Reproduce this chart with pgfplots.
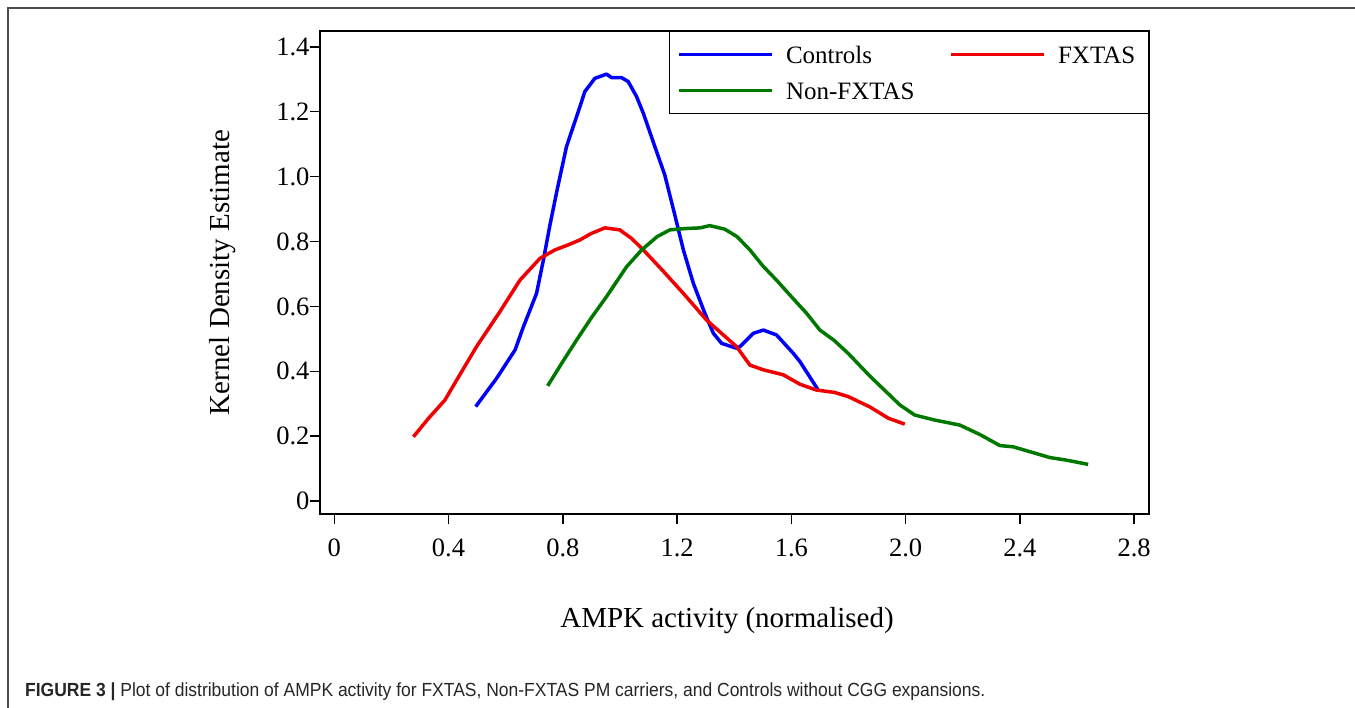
\documentclass[border=0pt]{standalone}
\usepackage{fontspec}
\setmainfont{Liberation Serif}
\newfontfamily\capfont{Liberation Sans}
\usepackage{pgfplots}
\pgfplotsset{compat=1.18}
\definecolor{ctrlblue}{RGB}{0,0,250}
\definecolor{fxred}{RGB}{240,0,0}
\definecolor{nongreen}{RGB}{0,120,0}

\begin{document}
\begin{tikzpicture}[x=1pt,y=1pt]
\path[use as bounding box] (0pt,0pt) rectangle (1355pt,708pt);
% outer figure frame (top and left edges visible)
\draw[line width=2pt, black!70] (8pt,-10pt) -- (8pt,700pt) -- (1365pt,700pt);

\begin{axis}[
  at={(320pt,194pt)}, anchor=south west,
  scale only axis, width=829pt, height=483pt,
  xmin=-0.05, xmax=2.852, ymin=-0.04, ymax=1.449,
  xtick={0,0.4,0.8,1.2,1.6,2.0,2.4,2.8},
  xticklabels={0,0.4,0.8,1.2,1.6,2.0,2.4,2.8},
  ytick={0,0.2,0.4,0.6,0.8,1.0,1.2,1.4},
  yticklabels={0,0.2,0.4,0.6,0.8,1.0,1.2,1.4},
  tick align=outside, tick pos=left, major tick length=10pt,
  axis line style={line width=1.8pt},
  tick style={line width=1.4pt, black},
  ticklabel style={font=\fontsize{26.5}{30}\selectfont},
  xticklabel style={yshift=-11pt},
  yticklabel style={xshift=3pt},
  xlabel={AMPK activity (normalised)},
  ylabel={Kernel Density Estimate},
  label style={font=\fontsize{29}{34}\selectfont},
  xlabel style={at={(axis description cs:0.491,-0.234)}, anchor=base},
  ylabel style={at={(axis description cs:-0.118,0.5)}, anchor=center},
  legend columns=2, legend cell align=left,
  legend image code/.code={\draw[#1] (0pt,0pt) -- (93pt,0pt);},
  legend style={at={(rel axis cs:1,1)}, anchor=north east, draw=black, line width=1.5pt,
    inner xsep=8pt, inner ysep=12pt, row sep=14pt,
    font=\fontsize{25}{28}\selectfont,
    nodes={inner sep=0pt, text height=20pt, text depth=2pt},
    /tikz/every odd column/.append style={column sep=12pt},
    /tikz/every even column/.append style={column sep=35pt}},
  every axis plot/.append style={line width=3.5pt, line join=round},
]

\addplot[ctrlblue] coordinates {
  (0.495,0.291) (0.568,0.378) (0.633,0.466) (0.662,0.537) (0.708,0.640)
  (0.732,0.743) (0.755,0.851) (0.780,0.959) (0.813,1.093) (0.860,1.216)
  (0.877,1.262) (0.912,1.303) (0.953,1.316) (0.971,1.305) (1.006,1.305)
  (1.029,1.293) (1.058,1.247) (1.082,1.195) (1.122,1.093) (1.157,1.005)
  (1.192,0.882) (1.222,0.774) (1.257,0.671) (1.297,0.579) (1.327,0.517)
  (1.356,0.486) (1.408,0.471) (1.420,0.476) (1.467,0.517) (1.502,0.527)
  (1.548,0.512) (1.607,0.455) (1.630,0.430) (1.694,0.342)
};
\addlegendentry{Controls}

\addplot[fxred] coordinates {
  (0.277,0.198) (0.330,0.255) (0.387,0.311) (0.440,0.390) (0.498,0.476)
  (0.580,0.584) (0.650,0.681) (0.720,0.748) (0.772,0.774) (0.820,0.790)
  (0.860,0.805) (0.900,0.825) (0.947,0.842) (0.999,0.836) (1.040,0.810)
  (1.082,0.774) (1.150,0.710) (1.222,0.640) (1.303,0.558) (1.408,0.476)
  (1.455,0.419) (1.500,0.405) (1.572,0.389) (1.630,0.360) (1.688,0.342)
  (1.750,0.335) (1.799,0.322) (1.875,0.290) (1.940,0.255) (1.997,0.237)
};
\addlegendentry{FXTAS\hspace*{5pt}}

\addplot[nongreen] coordinates {
  (0.747,0.355) (0.800,0.430) (0.848,0.496) (0.900,0.565) (0.953,0.630)
  (1.023,0.722) (1.076,0.774) (1.130,0.815) (1.175,0.836) (1.230,0.840)
  (1.280,0.842) (1.314,0.849) (1.367,0.838) (1.410,0.815) (1.455,0.774)
  (1.500,0.725) (1.548,0.681) (1.600,0.630) (1.653,0.579) (1.700,0.527)
  (1.750,0.495) (1.799,0.455) (1.875,0.385) (1.940,0.330) (1.980,0.296)
  (2.032,0.265) (2.100,0.250) (2.190,0.234) (2.260,0.205) (2.330,0.171)
  (2.377,0.167) (2.435,0.152) (2.505,0.134) (2.563,0.126) (2.639,0.113)
};
\addlegendentry{Non-FXTAS}
\end{axis}

\node[anchor=base west, inner sep=0pt, text=black!85] at (25pt,11pt)
  {\scalebox{0.92}[1]{\capfont\fontsize{19}{22}\selectfont\textbf{FIGURE 3 |} Plot of distribution of AMPK activity for FXTAS, Non-FXTAS PM carriers, and Controls without CGG expansions.}};
\end{tikzpicture}
\end{document}
